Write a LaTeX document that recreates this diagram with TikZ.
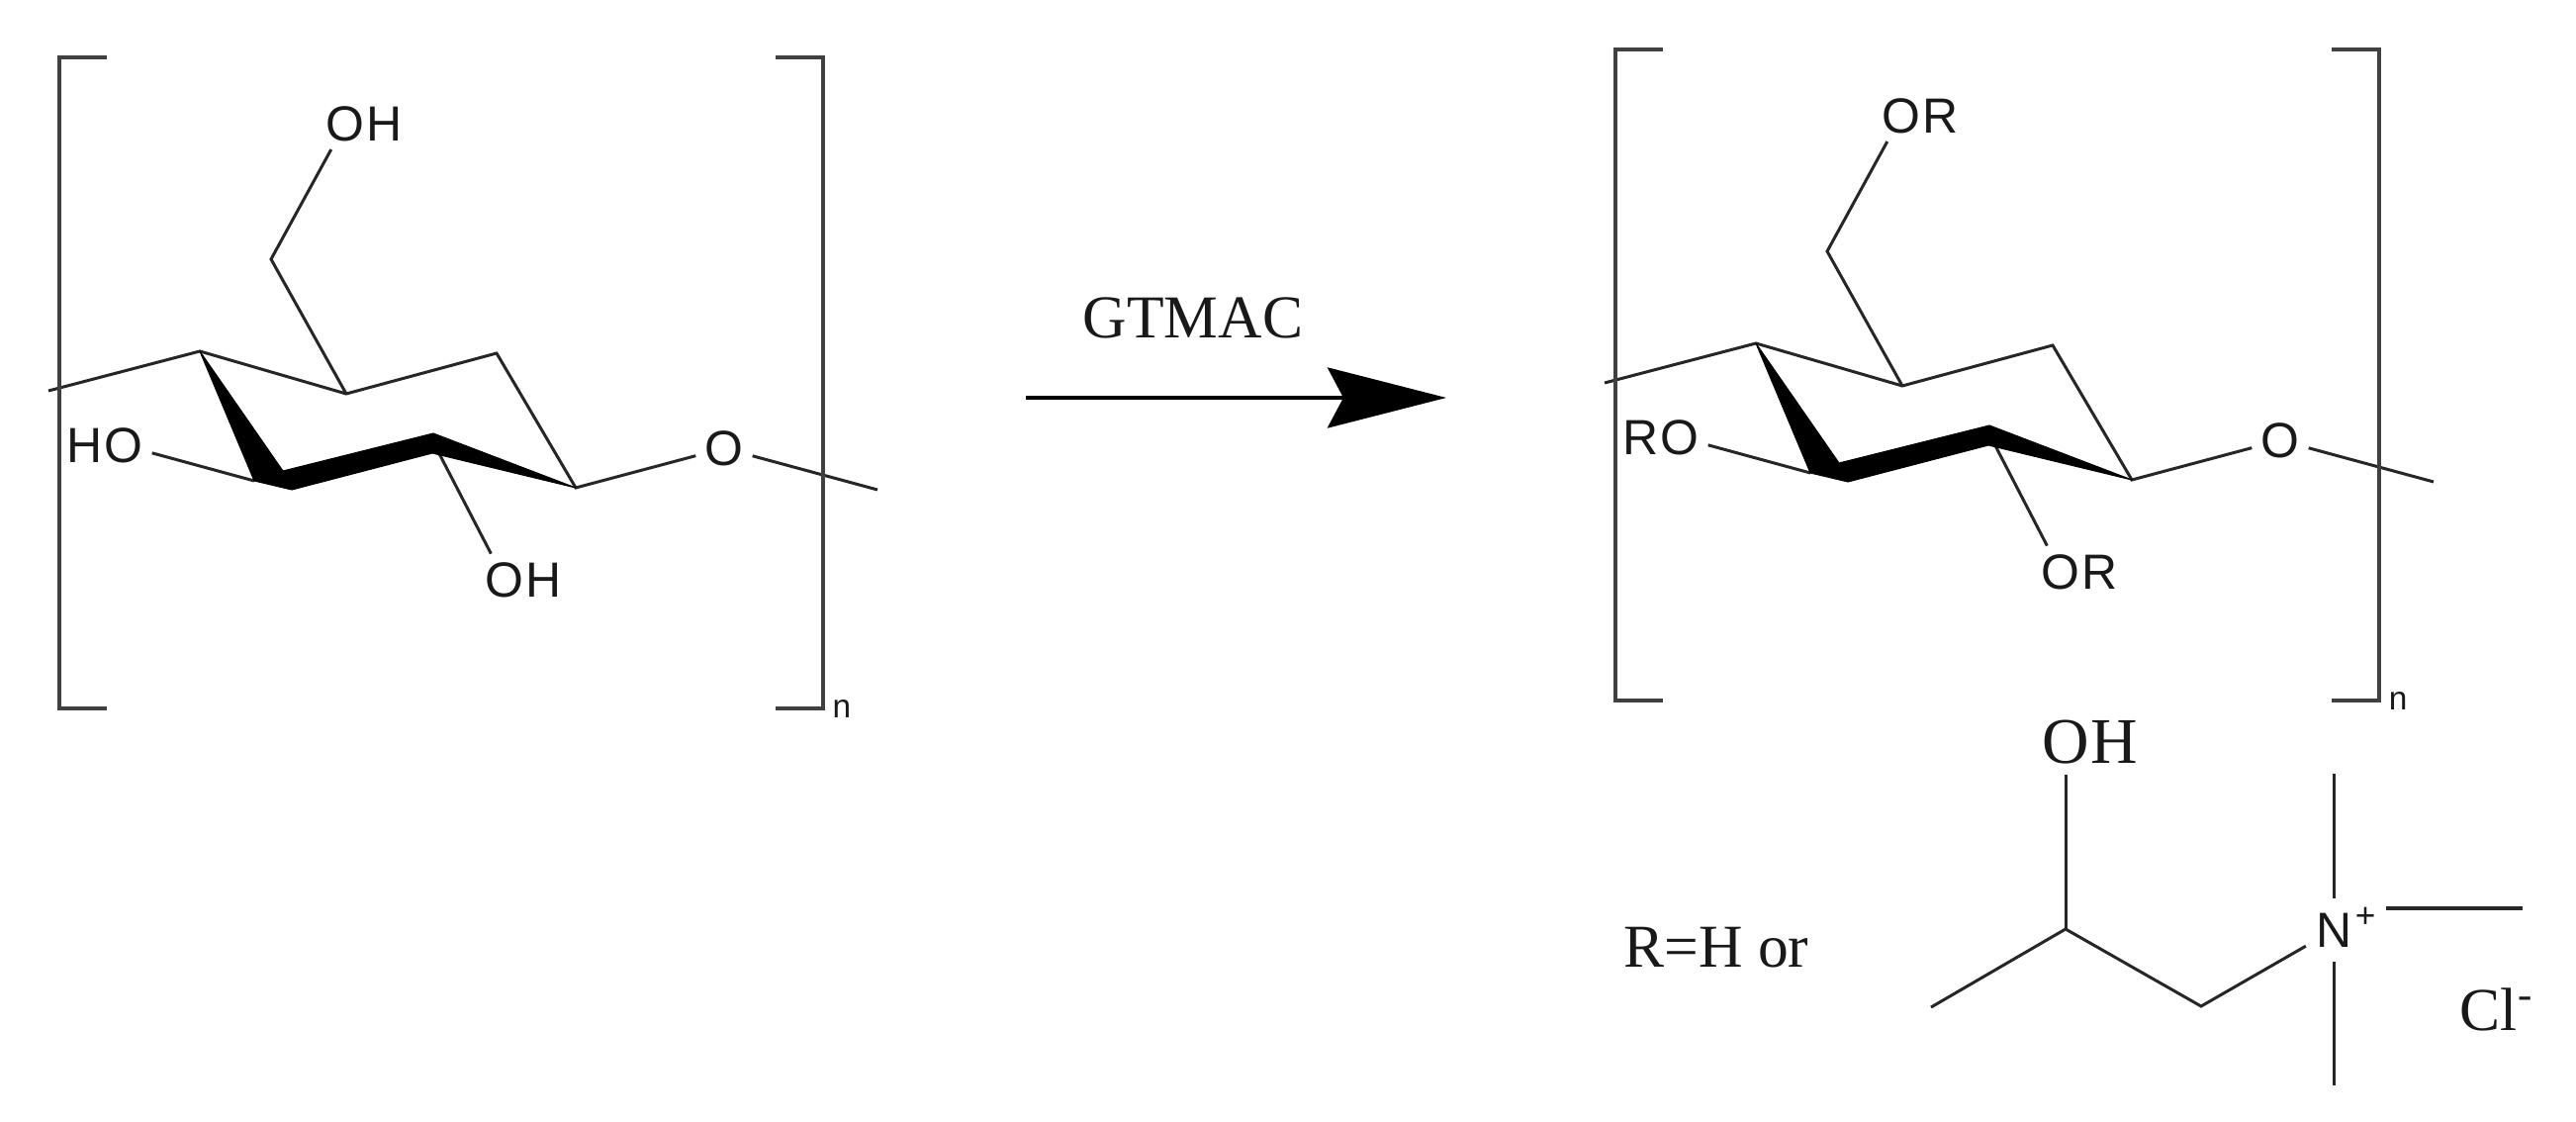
\documentclass[tikz,border=0pt]{standalone}
\usepackage{fontspec}
\setmainfont{Liberation Sans}
\newfontfamily\timesfont{Liberation Serif}
\usetikzlibrary{positioning,arrows.meta}
\begin{document}
\begin{tikzpicture}[
  x=0.01cm, y=-0.01cm,
  bond/.style = {line width=0.85pt, color=black!85},
  bracket/.style = {line width=1.1pt, color=black!75},
  wedge/.style = {fill=black, draw=black, line width=0.3pt, line join=round},
  every node/.style = {text=black!90},
  atom/.style = {shape=circle, inner sep=0.6pt, text depth=0pt,
    font=\fontsize{14.2}{16}\selectfont},
  atomrest/.style = {inner sep=0pt, text depth=0pt,
    font=\fontsize{14.2}{16}\selectfont},
  serif/.style = {inner sep=0pt, font=\timesfont\fontsize{17.5}{20}\selectfont},
  serifatom/.style = {shape=circle, inner sep=0pt, text depth=0pt,
    font=\timesfont\fontsize{18.7}{20}\selectfont},
  serifrest/.style = {inner sep=0pt, text depth=0pt,
    font=\timesfont\fontsize{18.7}{20}\selectfont}
  ]
  \useasboundingbox (0,0) rectangle (2604,1134);
  \fill[white] (0,0) rectangle (2604,1134);
  \foreach \dx/\dy/\sub/\pre in {0/0/H/left, 1573/-8/R/right} {
    \begin{scope}[shift={(\dx,\dy)}, name prefix=\pre-]
      \coordinate (c1) at (202,355);
      \coordinate (c2) at (350,398);
      \coordinate (c3) at (502,357);
      \coordinate (c4) at (582,493);
      \coordinate (c5) at (437,445);
      \coordinate (c6) at (257,486);
      \coordinate (c7) at (274,262);
      \coordinate (endl) at (49,395);
      \coordinate (endr) at (887,495);
      \node[atom] (o6) at (349,125) {O};
      \node[atomrest, right=-0.09cm of o6] (r6) {\sub};
      \node[atom] (o2) at (510,586) {O};
      \node[atomrest, right=-0.09cm of o2] (r2) {\sub};
      \node[atom] (o3) at (125,450) {O};
      \node[atomrest, left=-0.09cm of o3] (r3) {\sub};
      \node[atom] (o1) at (732,453) {O};
      \node[atomrest] (n) at (851,717) {\fontsize{9.5}{10}\selectfont n};
      \draw[bond] (endl) -- (c1) -- (c2) -- (c3) -- (c4) -- (o1) -- (endr);
      \draw[bond] (c2) -- (c7) -- (o6);
      \draw[bond] (c5) -- (o2);
      \draw[bond] (c6) -- (o3);
      \fill[wedge] (c1) -- (286,476) -- (438,438) -- (c4) -- (437,458)
        -- (295,495) -- (c6) -- cycle;
      \draw[bracket] (108,58) -- (60,58) -- (60,716) -- (108,716);
      \draw[bracket] (784,58) -- (832,58) -- (832,716) -- (784,716);
    \end{scope}
  }
  \coordinate (start) at (1037,402);
  \coordinate (stop) at (1462,402);
  \draw[line width=1.1pt, -{Stealth[length=1.2cm, width=0.61cm, inset=0.16cm]}] (start) -- (stop);
  \node[serif] (reagent) at (1206,321) {GTMAC};
  \node[serif] (rdef) at (1735,958) {R=H or};
  \coordinate (ch3) at (1952,1018);
  \coordinate (choh) at (2088,939);
  \coordinate (ch2) at (2225,1017);
  \coordinate (me1) at (2359,782);
  \coordinate (me2) at (2550,918);
  \coordinate (me3) at (2359,1097);
  \node[serifatom] (oh) at (2088,750) {O};
  \node[serifrest, right=-0.08cm of oh] (hh) {H};
  \node[atom, inner sep=1.4pt] (nplus) at (2359,940) {N};
  \node[inner sep=0pt, font=\fontsize{10}{10}\selectfont] (chg) at (2391,927) {+};
  \node[serif] (cl) at (2524,1020) {Cl\textsuperscript{-}};
  \draw[bond] (ch3) -- (choh) -- (ch2) -- (nplus);
  \draw[bond] (choh) -- (oh);
  \draw[bond] (me1) -- (nplus) -- (me3);
  \draw[bond, line width=1.3pt] ([xshift=0.1cm]chg.east |- me2) -- (me2);
\end{tikzpicture}
\end{document}
